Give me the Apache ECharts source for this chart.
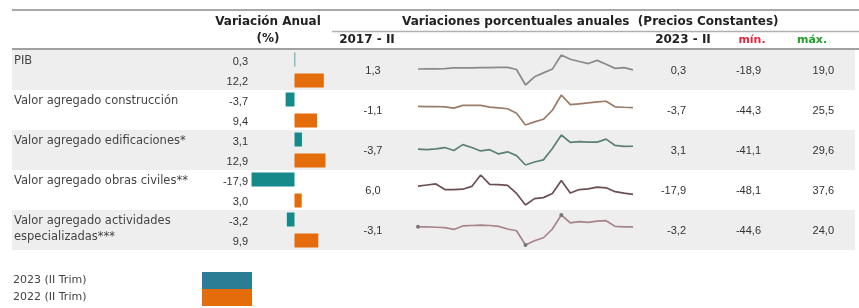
<!DOCTYPE html>
<html>
<head>
<meta charset="utf-8">
<script src="https://cdn.jsdelivr.net/npm/echarts@6/dist/echarts.min.js"></script>
<style>
html, body { margin: 0; padding: 0; background: #fff; }
#chart { width: 859px; height: 308px; }
</style>
</head>
<body>
<div id="chart"></div>
<script>
// filas de la tabla
var filas = ['PIB', 'Valor agregado construcción', 'Valor agregado edificaciones*', 'Valor agregado obras civiles**', 'Valor agregado actividades\nespecializadas***'];
// variación anual (%), II trimestre
var anual2023 = [0.3, -3.7, 3.1, -17.9, -3.2];
var anual2022 = [12.2, 9.4, 12.9, 3.0, 9.9];

var trimestres = ['2017-II', '2017-III', '2017-IV', '2018-I', '2018-II', '2018-III', '2018-IV',
  '2019-I', '2019-II', '2019-III', '2019-IV', '2020-I', '2020-II', '2020-III', '2020-IV',
  '2021-I', '2021-II', '2021-III', '2021-IV', '2022-I', '2022-II', '2022-III', '2022-IV',
  '2023-I', '2023-II'];

// variaciones porcentuales anuales (precios constantes)
var pib = [1.3, 1.6, 1.5, 1.8, 2.8, 2.7, 2.8, 3.1, 3.0, 3.3, 3.4, 0.7, -18.9, -8.5, -3.6, 1.2, 19.0, 13.6, 10.8, 8.2, 12.2, 7.3, 2.1, 3.0, 0.3];
var construccion = [-1.1, -1.5, -1.2, -2.0, -5.0, 1.5, 1.5, 1.5, -2.6, -4.5, -6.5, -17.0, -44.3, -37.0, -31.0, -10.0, 25.5, 3.0, 5.0, 7.0, 9.4, 11.0, -2.0, -3.0, -3.7];
var edificaciones = [-3.7, -5.0, -3.0, 0.0, -7.0, 7.0, 0.0, -8.0, -5.0, -15.0, -10.0, -19.0, -41.1, -34.0, -29.0, -2.0, 29.6, 12.0, 14.0, 13.0, 12.9, 20.0, 5.0, 3.0, 3.1];
var obrasCiviles = [6.0, 9.0, 12.0, -4.0, -4.0, -3.0, 5.0, 37.6, 11.0, 10.0, 8.0, -15.0, -48.1, -30.0, -27.0, -15.0, 22.0, -14.0, -4.0, -2.0, 3.0, 1.0, -10.0, -14.0, -17.9];
var especializadas = [-3.1, -3.0, -4.0, -5.0, -9.0, -1.0, 0.0, 1.0, 0.0, -2.0, -8.0, -12.0, -44.6, -35.0, -28.0, -8.0, 24.0, 6.0, 9.0, 7.0, 9.9, 11.0, -2.0, -3.0, -3.2];

var series5 = [pib, construccion, edificaciones, obrasCiviles, especializadas];
var lineColors = ['#8a8a8a', '#9c7b68', '#5c8078', '#6b4e52', '#a8848b'];

var TOP = 50, ROW = 40;
var fLabel = 'DejaVu Sans';
var fNum = 'Liberation Sans';

function fmt(v) { return v.toFixed(1).replace('.', ','); }

var graphic = [];
// fondo gris de filas alternas
for (var r = 0; r < filas.length; r += 2) {
  graphic.push({ type: 'rect', z: -10, silent: true,
    shape: { x: 12, y: TOP + r * ROW, width: 843, height: ROW },
    style: { fill: '#eeeeee' } });
}
// lineas de cabecera
graphic.push({ type: 'line', shape: { x1: 12, y1: 10, x2: 859, y2: 10 }, style: { stroke: '#a8a8a8', lineWidth: 2 } });
graphic.push({ type: 'line', shape: { x1: 332, y1: 31.5, x2: 859, y2: 31.5 }, style: { stroke: '#b0b0b0', lineWidth: 1.5 } });
graphic.push({ type: 'line', shape: { x1: 12, y1: 49, x2: 859, y2: 49 }, style: { stroke: '#a0a0a0', lineWidth: 2 } });

function txt(s, x, y, align, font, color, extra) {
  var st = { text: s, x: x, y: y, align: align, verticalAlign: 'middle', font: font, fill: color || '#222' };
  if (extra) for (var k in extra) st[k] = extra[k];
  return { type: 'text', silent: true, style: st };
}
var hFont = 'bold 12px "' + fLabel + '"';
graphic.push(txt('Variación Anual', 268, 22, 'center', hFont));
graphic.push(txt('(%)', 268, 39, 'center', hFont));
graphic.push(txt('Variaciones porcentuales anuales  (Precios Constantes)', 402, 22, 'left', hFont));
graphic.push(txt('2017 - II', 367, 40, 'center', hFont));
graphic.push(txt('2023 - II', 683, 40, 'center', hFont));
graphic.push(txt('mín.', 752, 40, 'center', 'bold 11px "' + fLabel + '"', '#e3263b'));
graphic.push(txt('máx.', 812, 40, 'center', 'bold 11px "' + fLabel + '"', '#1f9e2a'));

var nFont = '11px "' + fNum + '"';
for (var i = 0; i < filas.length; i++) {
  var y0 = TOP + i * ROW;
  var d = series5[i];
  graphic.push({ type: 'text', silent: true, style: { text: filas[i], x: 14, y: y0 + 3, align: 'left', verticalAlign: 'top',
    font: '11.5px "' + fLabel + '"', fill: '#444', lineHeight: 16 } });
  graphic.push(txt(fmt(anual2023[i]), 248, y0 + 12, 'right', nFont, '#333'));
  graphic.push(txt(fmt(anual2022[i]), 248, y0 + 32, 'right', nFont, '#333'));
  graphic.push(txt(fmt(d[0]), 373, y0 + 21, 'center', nFont, '#333'));
  graphic.push(txt(fmt(d[d.length - 1]), 686, y0 + 21, 'right', nFont, '#333'));
  graphic.push(txt(fmt(Math.min.apply(null, d)), 761, y0 + 21, 'right', nFont, '#333'));
  graphic.push(txt(fmt(Math.max.apply(null, d)), 834, y0 + 21, 'right', nFont, '#333'));
}

var grids = [{ left: 246.5, top: TOP, width: 84, height: ROW * filas.length }];
var xAxes = [{ type: 'value', gridIndex: 0, min: -20, max: 15, show: false }];
var yAxes = [{ type: 'category', gridIndex: 0, data: filas, inverse: true, show: false }];
var series = [
  { name: '2023 (II Trim)', type: 'bar', xAxisIndex: 0, yAxisIndex: 0, data: anual2023,
    barWidth: 14, barGap: '50%', itemStyle: { color: '#168a8a' }, silent: true },
  { name: '2022 (II Trim)', type: 'bar', xAxisIndex: 0, yAxisIndex: 0, data: anual2022,
    barWidth: 14, itemStyle: { color: '#e46c0a' }, silent: true }
];

series5.forEach(function (d, i) {
  var gi = i + 1;
  grids.push({ left: 418, top: TOP + i * ROW + 5, width: 215, height: 30 });
  xAxes.push({ type: 'category', gridIndex: gi, data: trimestres, boundaryGap: false, show: false });
  yAxes.push({ type: 'value', gridIndex: gi, min: 'dataMin', max: 'dataMax', show: false });
  var mn = Math.min.apply(null, d), mx = Math.max.apply(null, d);
  series.push({
    type: 'line', xAxisIndex: gi, yAxisIndex: gi, data: d, silent: true,
    symbol: 'circle', showSymbol: i === 4, showAllSymbol: true,
    symbolSize: function (v, p) { return (p.dataIndex === 0 || v === mn || v === mx) ? 4 : 0; },
    itemStyle: { color: '#777' },
    lineStyle: { color: lineColors[i], width: 1.7 }
  });
});

var chart = echarts.init(document.getElementById('chart'));
chart.setOption({
  animation: false,
  backgroundColor: '#fff',
  grid: grids,
  xAxis: xAxes,
  yAxis: yAxes,
  legend: {
    orient: 'vertical', left: 13, top: 272, height: 40, padding: 0, itemGap: 0, itemWidth: 50, itemHeight: 17,
    align: 'right', icon: 'rect', selectedMode: false,
    data: [
      { name: '2023 (II Trim)', itemStyle: { color: '#2b7d96' } },
      { name: '2022 (II Trim)', itemStyle: { color: '#e46c0a' } }
    ],
    formatter: function (n) { return '{a|' + n + '}'; },
    textStyle: { fontFamily: fLabel, fontSize: 11, color: '#444',
      rich: { a: { width: 184, align: 'left', fontFamily: fLabel, fontSize: 11, color: '#444' } } }
  },
  graphic: graphic,
  series: series
});
</script>
</body>
</html>
